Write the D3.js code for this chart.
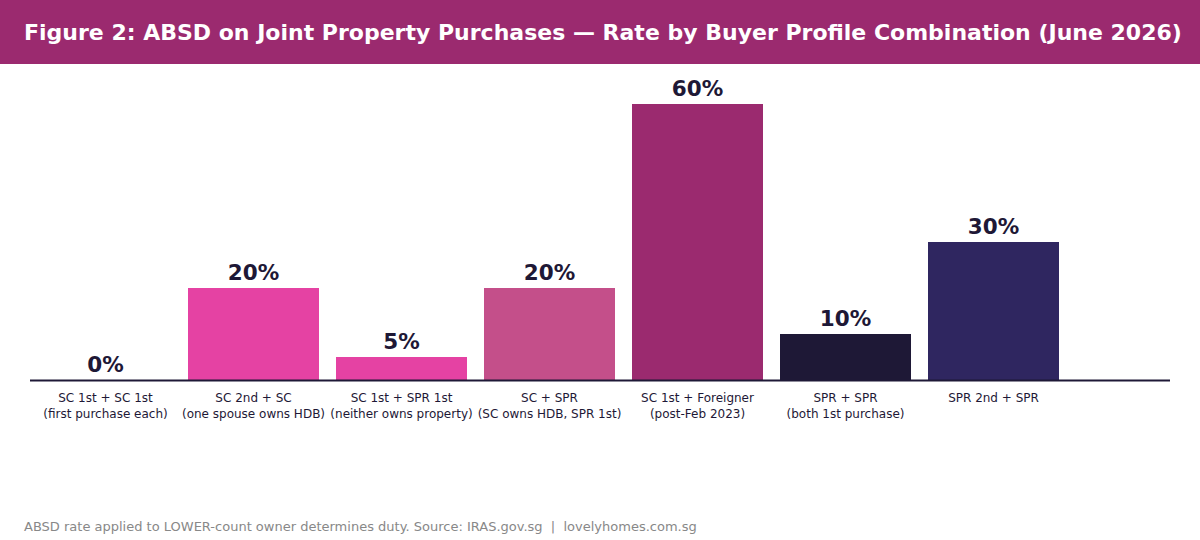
<!DOCTYPE html>
<html>
<head>
<meta charset="utf-8">
<script src="https://cdn.jsdelivr.net/npm/d3@7"></script>
<style>
  body { margin: 0; background: #fff; }
  text { font-family: "DejaVu Sans", sans-serif; white-space: pre; }
</style>
</head>
<body>
<svg id="chart"></svg>
<script>
var categories = [
  ["SC 1st + SC 1st", "(first purchase each)"],
  ["SC 2nd + SC", "(one spouse owns HDB)"],
  ["SC 1st + SPR 1st", "(neither owns property)"],
  ["SC + SPR", "(SC owns HDB, SPR 1st)"],
  ["SC 1st + Foreigner", "(post-Feb 2023)"],
  ["SPR + SPR", "(both 1st purchase)"],
  ["SPR 2nd + SPR", ""]
];
var rates = [0, 20, 5, 20, 60, 10, 30];
var barColors = ["#e542a3", "#e542a3", "#e542a3", "#c44f8a", "#9b2a6f", "#1e1836", "#2f2660"];

var W = 1200, H = 540;
var svg = d3.select('#chart').attr('width', W).attr('height', H);

// header band
svg.append('rect').attr('x', 0).attr('y', 0).attr('width', W).attr('height', 64).attr('fill', '#9b2a6f');
svg.append('text')
   .attr('x', 24).attr('y', 40)
   .attr('fill', '#fff')
   .style('font-size', '22px').style('font-weight', 'bold')
   .text('Figure 2: ABSD on Joint Property Purchases \u2014 Rate by Buyer Profile Combination (June 2026)');

var x = d3.scaleBand()
  .domain(d3.range(categories.length))
  .range([31.5, 31.5 + 148 * categories.length])
  .paddingInner(17 / 148)
  .paddingOuter(8.5 / 148);

var y = d3.scaleLinear().domain([0, 60]).range([380, 104]);

svg.selectAll('rect.bar')
   .data(rates)
   .enter()
   .append('rect')
     .attr('class', 'bar')
     .attr('x', function(d, i){ return x(i) })
     .attr('y', function(d){ return y(d) })
     .attr('width', x.bandwidth())
     .attr('height', function(d){ return y(0) - y(d) })
     .attr('fill', function(d, i){ return barColors[i] });

svg.selectAll('text.val')
   .data(rates)
   .enter()
   .append('text')
     .attr('class', 'val')
     .attr('x', function(d, i){ return x(i) + x.bandwidth() / 2 })
     .attr('y', function(d){ return y(d) - 8 })
     .attr('text-anchor', 'middle')
     .attr('fill', '#1e1836')
     .style('font-size', '21.5px').style('font-weight', 'bold')
     .text(function(d){ return d + '%' });

// baseline
svg.append('line')
   .attr('x1', 30).attr('x2', 1170)
   .attr('y1', y(0) + 0.5).attr('y2', y(0) + 0.5)
   .attr('stroke', '#1e1836').attr('stroke-width', 2);

var labels = svg.selectAll('g.lab')
   .data(categories)
   .enter()
   .append('g')
     .attr('class', 'lab')
     .attr('transform', function(d, i){ return 'translate(' + (x(i) + x.bandwidth() / 2) + ',0)' });

labels.append('text')
   .attr('y', 402).attr('text-anchor', 'middle')
   .attr('fill', '#1e1836').style('font-size', '12px')
   .text(function(d){ return d[0] });
labels.append('text')
   .attr('y', 418).attr('text-anchor', 'middle')
   .attr('fill', '#1e1836').style('font-size', '12px')
   .text(function(d){ return d[1] });

svg.append('text')
   .attr('x', 24).attr('y', 531)
   .attr('fill', '#888')
   .style('font-size', '13px')
   .text('ABSD rate applied to LOWER-count owner determines duty. Source: IRAS.gov.sg  |  lovelyhomes.com.sg');
</script>
</body>
</html>
